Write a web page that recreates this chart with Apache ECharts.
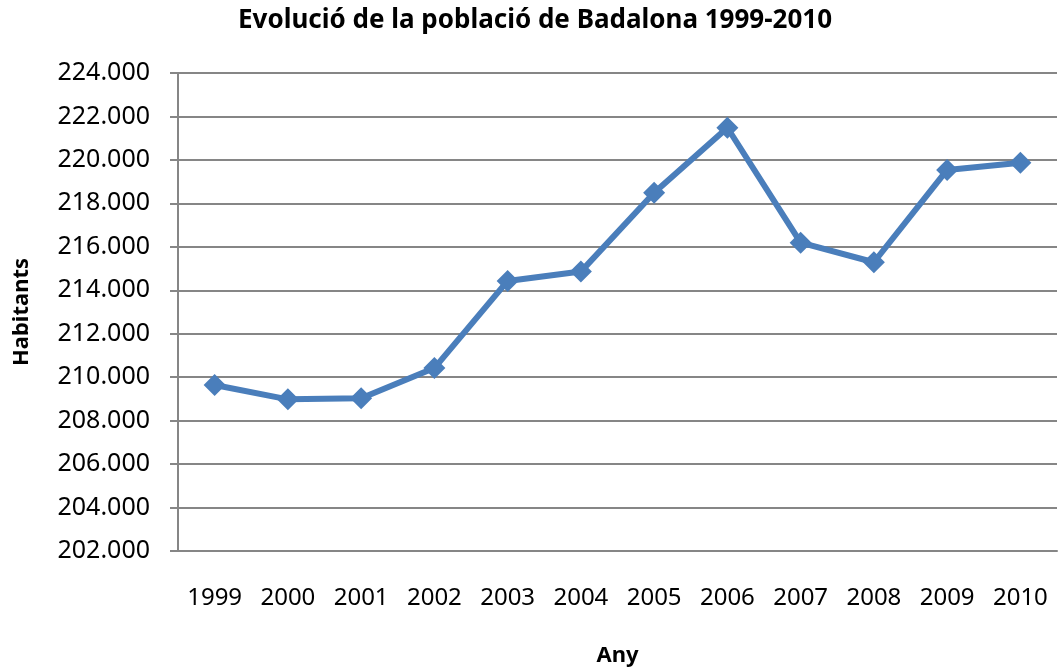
<!DOCTYPE html>
<html>
<head>
    <meta charset="utf-8">
    <title>Evolució de la població de Badalona</title>
    <script src="https://cdn.jsdelivr.net/npm/echarts@6/dist/echarts.min.js"></script>
</head>
<body style="margin:0">
    <div id="main" style="width:1058px;height:669px;"></div>
    <script>
        var years = ['1999', '2000', '2001', '2002', '2003', '2004', '2005', '2006', '2007', '2008', '2009', '2010'];
        var habitants = [209640, 208980, 209030, 210420, 214430, 214860, 218490, 221480, 216190, 215290, 219540, 219870];

        var GRAY = '#868686';
        var FONT = 'Noto Sans';

        var myChart = echarts.init(document.getElementById('main'));

        function fmt(v) {
            // 224000 -> 224.000
            return String(v).replace(/\B(?=(\d{3})+(?!\d))/g, '.');
        }

        var option = {
            animation: false,
            backgroundColor: '#fff',
            title: {
                text: 'Evolució de la població de Badalona 1999-2010',
                left: 530,
                top: 3,
                textAlign: 'center',
                textStyle: { fontFamily: FONT, fontSize: 26, fontWeight: 'bold', color: '#000' }
            },
            grid: { left: 178, right: 1, top: 73, bottom: 118, outerBoundsMode: 'none' },
            xAxis: {
                type: 'category',
                data: years,
                boundaryGap: true,
                name: 'Any',
                nameLocation: 'middle',
                nameGap: 94,
                nameTextStyle: { fontFamily: FONT, fontSize: 22, fontWeight: 'bold', color: '#000' },
                axisLine: { lineStyle: { color: GRAY, width: 2 } },
                axisTick: { length: 8, interval: 0, lineStyle: { color: GRAY, width: 2 } },
                axisLabel: { margin: 35, interval: 0, fontFamily: FONT, fontSize: 24, color: '#000' }
            },
            yAxis: {
                type: 'value',
                min: 202000,
                max: 224000,
                interval: 2000,
                name: 'Habitants',
                nameLocation: 'middle',
                nameGap: 145,
                nameRotate: 90,
                nameTextStyle: { fontFamily: FONT, fontSize: 22, fontWeight: 'bold', color: '#000' },
                axisLine: { show: true, lineStyle: { color: GRAY, width: 2 } },
                axisTick: { show: true, length: 8, lineStyle: { color: GRAY, width: 2 } },
                splitLine: { lineStyle: { color: GRAY, width: 2 } },
                axisLabel: { margin: 28, fontFamily: FONT, fontSize: 25, color: '#000', formatter: fmt }
            },
            series: [{
                type: 'line',
                data: habitants,
                symbol: 'diamond',
                symbolSize: 22,
                lineStyle: { color: '#4A7EBB', width: 6 },
                itemStyle: { color: '#4A7EBB' }
            }]
        };

        myChart.setOption(option);
    </script>
</body>
</html>
